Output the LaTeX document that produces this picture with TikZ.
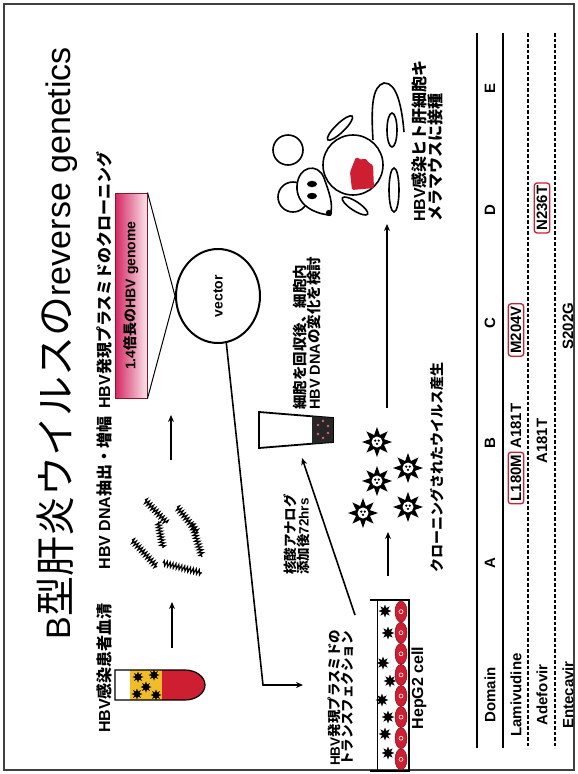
\documentclass[tikz,border=0pt]{standalone}
\usepackage{fontspec}
\setmainfont{Liberation Sans}
\newfontfamily\jp{Noto Sans CJK JP}
\usetikzlibrary{arrows.meta,shapes.geometric,decorations.pathmorphing}

\definecolor{hbvred}{RGB}{205,30,50}
\definecolor{serum}{RGB}{240,188,40}
\definecolor{genomepink}{RGB}{212,38,98}
\newcommand{\J}[1]{{\jp #1}}

\tikzset{
  lbl/.style={rotate=90, font=\bfseries\fontsize{13.5}{13}\selectfont, align=left, inner sep=0pt},
  steplbl/.style={lbl, font=\bfseries\fontsize{16}{16}\selectfont},
  tbl/.style={rotate=90, font=\bfseries\fontsize{15}{16}\selectfont, inner sep=0pt},
  mut/.style={tbl, draw=hbvred, line width=1.3pt, rounded corners=3pt, inner sep=2.5pt, fill=white},
  flow/.style={line width=1.6pt, -{Stealth[length=7pt,width=6pt]}},
  virus/.style={star, star points=8, star point ratio=2, fill=black, inner sep=0pt, minimum size=#1},
  core/.style={circle, fill=white, inner sep=0pt, minimum size=#1},
  coil/.style={line width=1.2pt, decorate, decoration={zigzag, segment length=3pt, amplitude=2.5pt}},
}

% one virion: star with a white core
\newcommand{\virion}[2]{%
  \node[virus=30pt] (#1) at (#2) {};
  \node[core=11pt] at (#2) {};
  \begin{scope}[shift={(#2)}]
    \fill (-1.8,-1.4) circle (1.3); \fill (1.8,-1.4) circle (1.3); \fill (0,1.8) circle (1.3);
  \end{scope}}

\begin{document}
\begin{tikzpicture}[x=1pt,y=-1pt]
\useasboundingbox (0,0) rectangle (578,774);
\draw[line width=1.5pt, black!75] (4,4) rectangle (574,770);

% title
\node[rotate=90, inner sep=0pt, font=\fontsize{34}{40}\selectfont] (title) at (57,343)
  {B\J{\fontsize{40}{40}\selectfont 型肝炎ウイルスの}reverse genetics};

% step labels
\node[steplbl] (serumlbl) at (104,668) {HBV\J{感染患者血清}};
\node[steplbl] (dnalbl) at (104,493) {HBV DNA\J{抽出・増幅}};
\node[steplbl] (clonelbl) at (104,280) {HBV\J{発現プラスミドのクローニング}};

% serum tube
\fill[serum] (130,670) rectangle (162,700);
\fill[hbvred] (162,670) -- (185,670) arc[start angle=-90, end angle=90, x radius=20, y radius=15] -- (162,700) -- cycle;
\draw[line width=1.2pt] (115,670) -- (185,670) arc[start angle=-90, end angle=90, x radius=20, y radius=15] -- (115,700) -- cycle;
\foreach \p [count=\i] in {{138,677},{154,675},{146,687},{137,694},{156,695}}
  \node[virus=11pt] (tube\i) at (\p) {};

\coordinate (s1) at (172,648);
\coordinate (e1) at (172,602);
\draw[flow] (s1) -- (e1);

% amplified DNA
\draw[coil] (145,500) -- (167,523);
\draw[coil] (158,522) -- (163,548);
\draw[coil] (177,507) -- (198,533);
\draw[coil] (192,524) -- (202,557);
\draw[coil] (132,540) -- (157,567);
\draw[coil] (163,563) -- (202,573);

\coordinate (s2) at (171,460);
\coordinate (e2) at (171,415);
\draw[flow] (s2) -- (e2);

% plasmid
\node[rotate=90, draw=hbvred!70!black, line width=1pt, left color=genomepink, right color=genomepink!12,
  minimum width=205pt, minimum height=32pt, inner sep=0pt, font=\bfseries\fontsize{14}{16}\selectfont]
  (genome) at (131,295.5) {1.4\J{倍長の}HBV genome};
\node[ellipse, draw, line width=2pt, rotate=90, minimum width=94pt, minimum height=84pt,
  font=\bfseries\fontsize{14}{16}\selectfont] (vec) at (218,296) {vector};
\draw[line width=1pt] (genome.south east) -- (vec.north);
\draw[line width=1pt] (genome.south west) -- (vec.north);

\coordinate (bend) at (263,685);
\coordinate (tfin) at (303,685);
\draw[flow] (vec.190) -- (bend) -- (tfin);

% drug and harvest
\node[lbl, anchor=west] (druglbl) at (297,575) {\J{核酸アナログ}\\\J{添加後}72hrs};
\draw[line width=1.8pt, fill=white] (259,412) -- (333,418) -- (333,442) -- (259,448) -- cycle;
\fill[black!85] (312,416.3) -- (333,418) -- (333,442) -- (312,443.7) -- cycle;
\foreach \p in {{318,425},{318,434},{323,421},{323,438},{328,426},{328,433}}
  \fill[hbvred!70] (\p) circle (1.3);
\node[lbl, anchor=west, font=\bfseries\fontsize{14.5}{13}\selectfont] (harvestlbl) at (307,410)
  {\J{細胞を回収後、細胞内}\\HBV DNA\J{の変化を検討}};

% HepG2 dish
\node[lbl, anchor=west] (tflbl) at (341,766) {HBV\J{発現プラスミドの}\\\J{トランスフェクション}};
\draw[line width=2pt] (370,600) -- (409,600) -- (409,771) -- (370,771);
\draw[line width=0.8pt] (377,600) -- (377,771);
\foreach \k in {0,...,7} {
  \fill[hbvred, draw=hbvred!60!black, line width=0.5pt] (401,{611.6+21.1*\k}) ellipse (6 and 10.5);
  \draw[white, line width=0.6pt] (401,{611.6+21.1*\k}) circle (2);
}
\foreach \p [count=\i] in {{385,611},{388,633},{383,663},{390,681},{382,700},{388,717},{385,734},{388,753}}
  \node[virus=13pt] (dish\i) at (\p) {};
\node[tbl, font=\bfseries\fontsize{16}{16}\selectfont] (hepg2) at (419,688) {HepG2 cell};

\coordinate (s3) at (355,615);
\coordinate (e3) at (302,458);
\draw[flow] (s3) -- (e3);

% produced virus
\coordinate (s4) at (388,576);
\coordinate (e4) at (388,532);
\draw[flow] (s4) -- (e4);
\virion{v1}{377,442}
\virion{v2}{377,481}
\virion{v3}{363,513}
\virion{v4}{408,468}
\virion{v5}{408,507}
\node[lbl, font=\bfseries\fontsize{14}{14}\selectfont] (virlbl) at (437,467) {\J{クローニングされたウイルス産生}};

\coordinate (s5) at (387,408);
\coordinate (e5) at (387,224);
\draw[flow] (s5) -- (e5);

% chimeric mouse
\begin{scope}[line width=1.6pt]
  \draw[fill=white] (288,150) circle (15);
  \draw[fill=white] (293,197) circle (15);
  \draw (373,140) .. controls (371,108) and (372,86) .. (384,83) .. controls (397,82) and (402,108) .. (404,132);
  \draw[fill=white, rotate around={44:(340,128)}] (340,128) ellipse (17 and 4.5);
  \draw[fill=white, rotate around={-33:(355,206)}] (355,206) ellipse (15 and 4.5);
  \draw[fill=white] (392,130) ellipse (5 and 17);
  \draw[fill=white] (394,190) ellipse (5 and 22);
  \draw[fill=white] (353,165) circle (30);
  \fill[hbvred, rounded corners=1.5pt] (356,157) -- (362,160) -- (365,158) -- (369,163) -- (373,165)
    -- (374,188) -- (352,190) -- (350,172) -- cycle;
  \draw[fill=white] (330,215) .. controls (315,214) and (296,205) .. (297,186)
    .. controls (298,166) and (318,162) .. (324,178) .. controls (329,192) and (334,205) .. (330,215) -- cycle;
  \fill (312,184) ellipse (5 and 3.2);
  \fill (312,196) ellipse (5 and 3.2);
  \fill (329,213) circle (3.2);
\end{scope}
\node[lbl, anchor=west, font=\bfseries\fontsize{16}{14}\selectfont] (mouselbl) at (427,222)
  {HBV\J{感染ヒト肝細胞キ}\\\J{メラマウスに接種}};

% resistance table
\draw[line width=1.4pt] (477,33) -- (477,748);
\draw[line width=1.4pt] (503,33) -- (503,748);
\draw[line width=1.2pt, dash pattern=on 3.5pt off 2pt] (528,33) -- (528,748);
\draw[line width=1.2pt, dash pattern=on 3.5pt off 2pt] (555,33) -- (555,748);
\node[tbl] (domain) at (490,695) {Domain};
\foreach \d/\y in {A/563, B/443, C/323, D/210, E/88}
  \node[tbl] (dom\d) at (490,\y) {\d};
\node[tbl] (lam) at (516,695) {Lamivudine};
\node[mut] (l180m) at (516,478) {L180M};
\node[tbl] (lama181t) at (516,426) {A181T};
\node[mut] (m204v) at (516,330) {M204V};
\node[tbl] (ade) at (542,695) {Adefovir};
\node[tbl] (adea181t) at (542,441) {A181T};
\node[mut] (n236t) at (542,208) {N236T};
\node[tbl] (ent) at (568,695) {Entecavir};
\node[tbl] (s202g) at (568,326) {S202G};
\end{tikzpicture}
\end{document}
